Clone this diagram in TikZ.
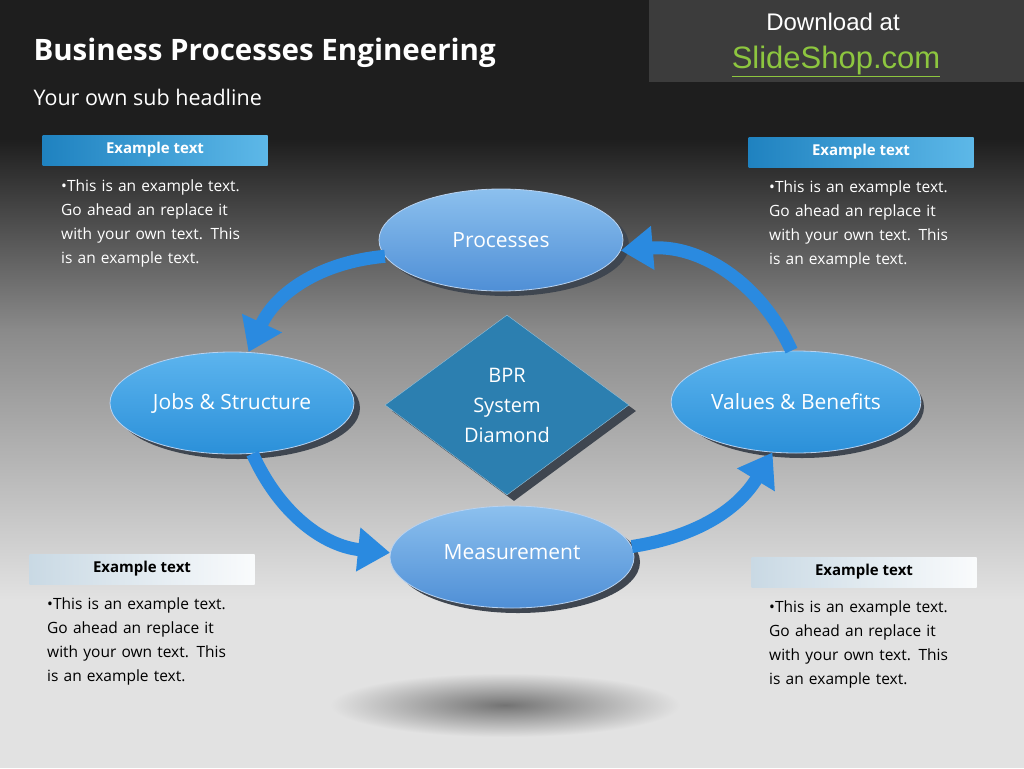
\documentclass[tikz,border=0pt]{standalone}
\usepackage{fontspec}
\setmainfont{Open Sans}
\newfontfamily\arialfont{Liberation Sans}
\usetikzlibrary{shapes.geometric,arrows.meta,positioning}
\definecolor{bgtop}{HTML}{1E1E1E}
\definecolor{bgbot}{HTML}{E2E2E2}
\definecolor{dlbox}{HTML}{3C3C3C}
\definecolor{slgreen}{HTML}{8DC63F}
\definecolor{ovlight}{HTML}{8CC0EE}
\definecolor{ovdark}{HTML}{4F8FD6}
\definecolor{ovsat}{HTML}{2B90D9}
\definecolor{ovsatlt}{HTML}{5CB4EE}
\definecolor{dmfill}{HTML}{2C7FB0}
\definecolor{shade}{HTML}{3F4650}
\definecolor{flowblue}{HTML}{2A8AE0}
\definecolor{tabdark}{HTML}{1F82C0}
\definecolor{tablight}{HTML}{5DB8E8}
\definecolor{tabpale}{HTML}{C9D9E4}
\tikzset{
  oval/.style={ellipse, minimum width=244pt, minimum height=102pt, draw=white!60!ovdark,
    line width=0.8pt, text=white, font=\fontsize{21}{24}\selectfont,
    top color=ovlight, bottom color=ovdark},
  ovalsat/.style={oval, top color=ovsatlt, bottom color=ovsat},
  ovshadow/.style={ellipse, minimum width=244pt, minimum height=102pt, fill=shade},
  dia/.style={diamond, minimum width=244pt, minimum height=180pt, inner sep=0pt},
  flow/.style={line width=13pt, draw=flowblue, -{Triangle[length=32pt,width=42pt]}},
  tabblue/.style={minimum width=225pt, minimum height=30pt, inner sep=0pt,
    left color=tabdark, right color=tablight, text=white, font=\bfseries\fontsize{15}{18}\selectfont},
  tabpale/.style={minimum width=225pt, minimum height=30pt, inner sep=0pt,
    left color=tabpale, right color=white!90!tabpale, text=black, font=\bfseries\fontsize{15}{18}\selectfont},
  body/.style={anchor=north west, align=left, text width=192pt, inner sep=0pt,
    font=\fontsize{15.5}{24}\selectfont\raggedright}
}
\begin{document}
\begin{tikzpicture}[x=1pt,y=-1pt]
\useasboundingbox (0,0) rectangle (1024,768);
% background
\fill[bgbot] (0,599) rectangle (1024,768);
\fill[bgtop] (0,0) rectangle (1024,140);
\shade[top color=bgtop, bottom color=bgtop!45!bgbot] (0,139) rectangle (1024,330);
\shade[top color=bgtop!45!bgbot, bottom color=bgbot] (0,329) rectangle (1024,600);
\shade[inner color=black!55, outer color=bgbot] (505,705) ellipse (175 and 32);

% header
\fill[dlbox] (649,0) rectangle (1024,82);
\node[text=white, font=\arialfont\fontsize{24}{26}\selectfont] (dl) at (833,22) {Download at};
\node[text=slgreen, font=\arialfont\fontsize{31}{33}\selectfont] (site) at (836,61) {\underline{SlideShop.com}};
\node[anchor=west, text=white, font=\bfseries\fontsize{29.5}{32}\selectfont] (title) at (30,53) {Business Processes Engineering};
\node[anchor=west, text=white, font=\fontsize{21.5}{24}\selectfont] (sub) at (30,97) {Your own sub headline};

% example text blocks
\node[tabblue] (tabtl) at (155,150) {Example text};
\node[tabblue] (tabtr) at (861,152) {Example text};
\node[tabpale] (tabbl) at (142,569) {Example text};
\node[tabpale] (tabbr) at (864,572) {Example text};
\node[body, text=white] (txttl) at (61,180) {•This is an example text. Go ahead an replace it with your own text. This is an example text.};
\node[body, text=white] (txttr) at (769,181) {•This is an example text. Go ahead an replace it with your own text. This is an example text.};
\node[body, text=black] (txtbl) at (47,598) {•This is an example text. Go ahead an replace it with your own text. This is an example text.};
\node[body, text=black] (txtbr) at (769,601) {•This is an example text. Go ahead an replace it with your own text. This is an example text.};

% shadows
\node[ovshadow] at (507,245) {};
\node[ovshadow] at (238,408) {};
\node[ovshadow] at (802,407) {};
\node[ovshadow] at (518,562) {};
\node[dia, fill=shade] at (514,411) {};

% ovals and diamond
\node[oval] (proc) at (501,240) {Processes};
\node[ovalsat] (jobs) at (232,403) {Jobs \& Structure};
\node[ovalsat] (vals) at (796,402) {Values \& Benefits};
\node[oval] (meas) at (512,557) {\raisebox{10pt}{Measurement}};
\node[dia, fill=dmfill, draw=white!50!dmfill, text=white, align=center,
  font=\fontsize{20}{30}\selectfont] (bpr) at (507,405) {BPR\\System\\Diamond};

% flows
\draw[flow] (proc.188) to[bend right=30] (jobs.72);
\draw[flow] (jobs.292) to[bend right=30] (meas.178);
\draw[flow] (meas.5) to[bend right=25] (vals.245);
\draw[flow] (vals.95) to[bend right=35] (proc.-5);
\end{tikzpicture}
\end{document}
